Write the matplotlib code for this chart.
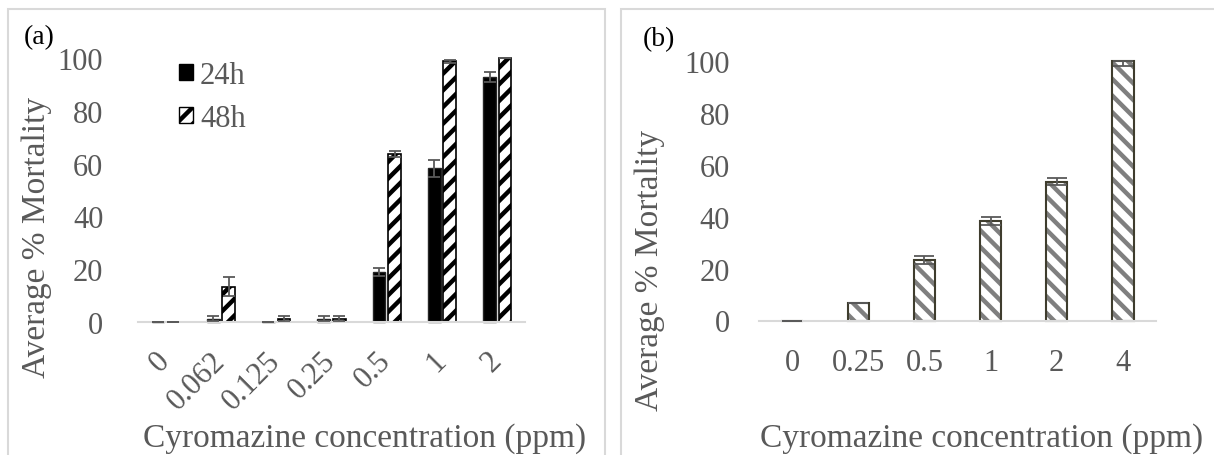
import matplotlib
matplotlib.use("Agg")
import matplotlib.pyplot as plt
from matplotlib.patches import Rectangle, Patch
import numpy as np

# ---- data -------------------------------------------------------------
conc_a = ["0", "0.062", "0.125", "0.25", "0.5", "1", "2"]
mort_24h = [0, 1.3, 0, 1.3, 19.0, 58.2, 92.8]
err_24h = [0, 1.0, 0, 1.0, 1.6, 3.3, 1.8]
mort_48h = [0, 13.4, 1.3, 1.3, 63.6, 98.8, 100]
err_48h = [0, 3.7, 1.0, 1.0, 1.0, 0.6, 0]
series_labels = ["24h", "48h"]

conc_b = ["0", "0.25", "0.5", "1", "2", "4"]
mort_b = [0, 6.7, 23.4, 38.4, 53.4, 100]
err_b_low = [0, 0, 1.5, 1.6, 1.4, 2.0]
err_b_high = [0, 0, 1.5, 1.6, 1.4, 0]

yticks = [0, 20, 40, 60, 80, 100]
xlabel = "Cyromazine concentration (ppm)"
ylabel = "Average % Mortality"

# ---- style ------------------------------------------------------------
plt.rcParams["font.family"] = ["Liberation Serif", "DejaVu Serif"]
plt.rcParams["hatch.linewidth"] = 3.2
TXT = "#595959"
LIGHT = "#d9d9d9"
ERR = "#595959"

W, H = 1214, 456
fig = plt.figure(figsize=(W / 100, H / 100), dpi=100)
fig.patch.set_facecolor("white")


def axes_px(x0, x1, y_top, y_bot):
    return fig.add_axes([x0 / W, (H - y_bot) / H, (x1 - x0) / W, (y_bot - y_top) / H])


def style_axes(ax, n, ypad):
    ax.set_xlim(-0.5, n - 0.5)
    ax.set_ylim(0, 100)
    for s in ("left", "right", "top"):
        ax.spines[s].set_visible(False)
    ax.spines["bottom"].set_color(LIGHT)
    ax.spines["bottom"].set_linewidth(1.5)
    ax.set_yticks(yticks)
    ax.tick_params(axis="both", length=0, labelsize=22, labelcolor=TXT)
    ax.tick_params(axis="y", pad=ypad)
    ax.set_facecolor("none")


# ---- panel (a) --------------------------------------------------------
ax_a = axes_px(138, 525, 59, 323)
xa = np.arange(len(conc_a))
bw = 0.23
off = 0.14
ax_a.bar(xa - off, mort_24h, bw, color="black", edgecolor="#262626",
         linewidth=1.0, zorder=2, clip_on=False)
ax_a.bar(xa + off, mort_48h, bw, color="white", edgecolor="black",
         linewidth=1.2, hatch="//", zorder=2, clip_on=False)
ax_a.errorbar(xa - off, mort_24h, yerr=err_24h, fmt="none", ecolor=ERR,
              elinewidth=1.3, capsize=4.3, capthick=1.3, zorder=3, clip_on=False)
ax_a.errorbar(xa + off, mort_48h, yerr=err_48h, fmt="none", ecolor=ERR,
              elinewidth=1.3, capsize=4.3, capthick=1.3, zorder=3, clip_on=False)
style_axes(ax_a, len(conc_a), 25)
ax_a.set_xticks(xa)
ax_a.set_xticklabels(conc_a, rotation=45, ha="right", va="center",
                     rotation_mode="anchor")
ax_a.tick_params(axis="x", pad=24.5)

handles = [Patch(facecolor="black", edgecolor="black"),
           Patch(facecolor="white", edgecolor="black", hatch="//")]
fig.legend(handles, series_labels, loc="upper left",
           bbox_to_anchor=(179 / W, 1 - 62 / H), bbox_transform=fig.transFigure,
           frameon=False, prop={"size": 22}, labelcolor=TXT,
           handlelength=0.46, handleheight=0.46, handletextpad=0.23,
           labelspacing=0.45, borderpad=0, borderaxespad=0)

# ---- panel (b) --------------------------------------------------------
ax_b = axes_px(759, 1156, 61.7, 321.5)
xb = np.arange(len(conc_b))
bwb = 0.32
# hatch layer in grey, outline drawn separately in dark olive
ax_b.bar(xb, mort_b, bwb, color="white", edgecolor="#7f7f7f", linewidth=0,
         hatch="\\\\", zorder=2, clip_on=False)
ax_b.bar(xb, mort_b, bwb, fill=False, edgecolor="#3f3d2e", linewidth=1.5,
         zorder=2.5, clip_on=False)
ax_b.errorbar(xb, mort_b, yerr=[err_b_low, err_b_high], fmt="none", ecolor=ERR,
              elinewidth=1.3, capsize=7, capthick=1.3, zorder=3, clip_on=False)
style_axes(ax_b, len(conc_b), 21)
ax_b.set_xticks(xb)
ax_b.set_xticklabels(conc_b, va="center")
ax_b.tick_params(axis="x", pad=30)

# ---- panel texts ------------------------------------------------------
fig.text(39 / W, 1 - 38 / H, "(a)", ha="center", va="center", size=20, color="black")
fig.text(659 / W, 1 - 40 / H, "(b)", ha="center", va="center", size=20, color="black")
fig.text(36.5 / W, 1 - 237 / H, ylabel, rotation=90, ha="center", va="center",
         size=24, color=TXT)
fig.text(650 / W, 1 - 270 / H, ylabel, rotation=90, ha="center", va="center",
         size=24, color=TXT)
fig.text(365 / W, 9 / H, xlabel, ha="center", va="baseline", size=24, color=TXT)
fig.text(982 / W, 9 / H, xlabel, ha="center", va="baseline", size=24, color=TXT)

# ---- panel frames -----------------------------------------------------
fig.add_artist(Rectangle((7.5 / W, -0.1), (604.5 - 7.5) / W, 1.1 - 10 / H,
                         transform=fig.transFigure, fill=False,
                         edgecolor=LIGHT, linewidth=1.5))
fig.add_artist(Rectangle((621 / W, -0.1), 1.1, 1.1 - 10 / H,
                         transform=fig.transFigure, fill=False,
                         edgecolor=LIGHT, linewidth=1.5))

fig.savefig("out.png", dpi=100, facecolor="white")
